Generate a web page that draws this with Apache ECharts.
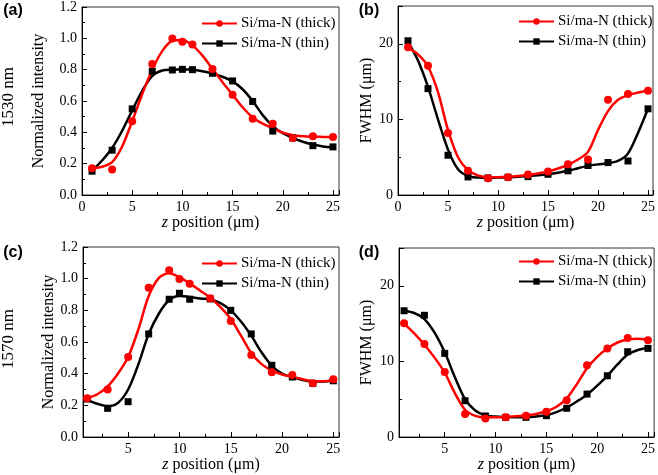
<!DOCTYPE html>
<html>
<head>
<meta charset="utf-8">
<script src="https://cdn.jsdelivr.net/npm/echarts@6/dist/echarts.min.js"></script>
<style>
    html, body { margin: 0; padding: 0; background: #fff; }
    #main { width: 658px; height: 475px; }
</style>
</head>
<body>
<div id="main"></div>
<script>
// measured z positions (um)
var zInt = [1, 3, 5, 7, 9, 10, 11, 13, 15, 17, 19, 21, 23, 25];
var zFwhm = [1, 3, 5, 7, 9, 11, 13, 15, 17, 19, 21, 23, 25];
// z positions where the fitted curves were read
var zFit = [1, 2, 3, 4, 5, 6, 7, 8, 9, 10, 11, 12, 13, 14, 15, 16, 17, 18, 19, 20, 21, 22, 23, 24, 25];

// (a) 1530 nm normalized intensity
var intThick1530 = [0.17, 0.163, 0.47, 0.836, 0.999, 0.978, 0.96, 0.804, 0.64, 0.487, 0.455, 0.364, 0.375, 0.37];
var intThin1530 = [0.152, 0.286, 0.55, 0.79, 0.798, 0.802, 0.80, 0.777, 0.728, 0.597, 0.408, 0.364, 0.315, 0.307];
var fitIntThick1530 = [0.17, 0.18, 0.21, 0.31, 0.47, 0.645, 0.80, 0.92, 0.985, 0.99, 0.955, 0.89, 0.805, 0.72, 0.64, 0.56, 0.495, 0.455, 0.425, 0.398, 0.382, 0.375, 0.372, 0.371, 0.37];
var fitIntThin1530 = [0.155, 0.22, 0.30, 0.41, 0.54, 0.665, 0.76, 0.795, 0.80, 0.802, 0.80, 0.79, 0.775, 0.755, 0.725, 0.675, 0.60, 0.51, 0.44, 0.395, 0.365, 0.34, 0.322, 0.31, 0.305];

// (b) 1530 nm FWHM
var fwThick1530 = [19.55, 17.1, 8.2, 3.2, 2.2, 2.35, 2.7, 3.1, 4.07, 4.7, 12.6, 13.36, 13.8];
var fwThin1530 = [20.4, 14.07, 5.26, 2.39, 2.26, 2.35, 2.43, 2.74, 3.2, 3.9, 4.29, 4.5, 11.4];
var fitFwThick1530 = [19.5, 18.6, 17.0, 13.6, 8.6, 5.0, 3.3, 2.6, 2.35, 2.35, 2.4, 2.5, 2.65, 2.85, 3.1, 3.5, 4.0, 4.7, 5.7, 8.6, 11.1, 12.6, 13.2, 13.55, 13.8];
var fitFwThin1530 = [20.3, 17.8, 14.3, 10.0, 6.0, 3.4, 2.5, 2.3, 2.25, 2.3, 2.35, 2.4, 2.5, 2.6, 2.75, 2.95, 3.2, 3.55, 3.85, 4.05, 4.2, 4.5, 5.5, 8.2, 11.4];

// (c) 1570 nm normalized intensity
var intThick1570 = [0.244, 0.30, 0.505, 0.943, 1.053, 0.998, 0.968, 0.876, 0.733, 0.518, 0.409, 0.392, 0.339, 0.365];
var intThin1570 = [0.24, 0.181, 0.223, 0.651, 0.87, 0.908, 0.87, 0.872, 0.80, 0.651, 0.453, 0.379, 0.339, 0.355];
var fitIntThick1570 = [0.245, 0.27, 0.32, 0.40, 0.505, 0.68, 0.89, 1.005, 1.035, 1.01, 0.97, 0.925, 0.88, 0.82, 0.745, 0.64, 0.53, 0.46, 0.42, 0.395, 0.38, 0.365, 0.352, 0.352, 0.36];
var fitIntThin1570 = [0.235, 0.21, 0.195, 0.215, 0.30, 0.46, 0.65, 0.78, 0.865, 0.89, 0.885, 0.875, 0.87, 0.845, 0.80, 0.73, 0.64, 0.535, 0.45, 0.40, 0.378, 0.36, 0.35, 0.35, 0.355];

// (d) 1570 nm FWHM
var fwThick1570 = [15.03, 12.3, 8.6, 3.04, 2.46, 2.6, 2.8, 3.35, 4.85, 9.5, 11.7, 13.1, 12.8];
var fwThin1570 = [16.7, 16.1, 11.06, 4.8, 2.78, 2.6, 2.6, 2.82, 3.8, 5.68, 8.1, 11.28, 11.72];
var fitFwThick1570 = [15.0, 13.7, 12.2, 10.5, 8.5, 5.8, 3.6, 2.8, 2.6, 2.6, 2.65, 2.75, 2.85, 3.05, 3.4, 4.0, 5.1, 7.0, 9.1, 10.6, 11.7, 12.5, 12.9, 13.0, 12.9];
var fitFwThin1570 = [16.7, 16.4, 15.6, 13.8, 11.2, 7.9, 5.0, 3.5, 2.85, 2.7, 2.65, 2.62, 2.62, 2.7, 2.9, 3.3, 3.9, 4.7, 5.6, 6.8, 8.1, 9.6, 10.9, 11.5, 11.8];

var seriesNames = ['Si/ma-N (thick)', 'Si/ma-N (thin)'];

var serif = 'Liberation Serif';
var sans = 'Liberation Sans';

function zip(xs, ys) {
    var out = [];
    for (var i = 0; i < xs.length; i++) {
        out.push([xs[i], ys[i]]);
    }
    return out;
}

function xAxisOf(grid, min, max, interval, gap) {
    var axis = {
        type: 'value',
        gridIndex: grid,
        min: min,
        max: max,
        splitNumber: 5,
        name: '{i|z} position (\u03bcm)',
        nameLocation: 'middle',
        nameGap: gap,
        nameTextStyle: {
            color: '#000', fontFamily: serif, fontSize: 16,
            rich: { i: { fontStyle: 'italic', fontFamily: serif, fontSize: 16, color: '#000' } }
        },
        axisLine: { lineStyle: { color: '#000', width: 1 } },
        axisTick: { inside: true, length: 5, lineStyle: { color: '#000' } },
        minorTick: { show: true, splitNumber: 2, length: 3, lineStyle: { color: '#000' } },
        axisLabel: {
            color: '#000', fontFamily: serif, fontSize: 14, margin: 5,
            formatter: function (v) {
                return Math.abs(v % 5) < 1e-6 ? String(v) : '';
            }
        },
        splitLine: { show: false }
    };
    if (interval) axis.interval = interval;
    return axis;
}

function yAxisOf(grid, max, interval, name, gap, digits) {
    return {
        type: 'value',
        gridIndex: grid,
        min: 0,
        max: max,
        interval: interval,
        name: name,
        nameLocation: 'middle',
        nameGap: gap,
        nameTextStyle: { color: '#000', fontFamily: serif, fontSize: 16 },
        axisLine: { show: true, lineStyle: { color: '#000', width: 1 } },
        axisTick: { show: true, inside: true, length: 5, lineStyle: { color: '#000' } },
        minorTick: { show: true, splitNumber: 2, length: 3, lineStyle: { color: '#000' } },
        axisLabel: {
            color: '#000', fontFamily: serif, fontSize: 14, margin: 5,
            formatter: function (v) {
                if (Math.abs(v / interval - Math.round(v / interval)) > 1e-6) return '';
                return v.toFixed(digits);
            }
        },
        splitLine: { show: false }
    };
}

// fitted curve, carries the legend entry
function curveOf(idx, thick, xs, ys) {
    var color = thick ? '#ff0000' : '#000000';
    return {
        name: thick ? seriesNames[0] : seriesNames[1],
        type: 'line',
        xAxisIndex: idx,
        yAxisIndex: idx,
        data: zip(xs, ys),
        smooth: 0.3,
        showSymbol: false,
        symbol: thick ? 'circle' : 'rect',
        symbolSize: thick ? 8 : 7,
        lineStyle: { color: color, width: 2.5 },
        itemStyle: { color: color },
        z: thick ? 3 : 2
    };
}

// measured points
function pointsOf(idx, thick, xs, ys) {
    var color = thick ? '#ff0000' : '#000000';
    return {
        name: thick ? 'thick points' : 'thin points',
        type: 'scatter',
        xAxisIndex: idx,
        yAxisIndex: idx,
        data: zip(xs, ys),
        symbol: thick ? 'circle' : 'rect',
        symbolSize: thick ? 8 : 7,
        itemStyle: { color: color, opacity: 1 },
        z: thick ? 4 : 3
    };
}

function legendOf(left, top) {
    return {
        data: seriesNames,
        orient: 'vertical',
        left: left,
        top: top,
        padding: 0,
        itemWidth: 35,
        itemHeight: 8,
        itemGap: 5,
        selectedMode: false,
        textStyle: { color: '#000', fontFamily: serif, fontSize: 15, padding: [0, 0, 0, -1] }
    };
}

function textOf(x, y, text, font, rotation) {
    return {
        type: 'text', x: x, y: y, rotation: rotation || 0, z: 10,
        style: { text: text, fill: '#000', font: font, textAlign: 'center', textVerticalAlign: 'middle' }
    };
}

var chart = echarts.init(document.getElementById('main'));
var frame = { show: true, borderColor: '#333', borderWidth: 1, backgroundColor: 'transparent' };

var option = {
    animation: false,
    backgroundColor: '#fff',
    grid: [
        Object.assign({ left: 82, top: 5, width: 257, height: 190 }, frame),
        Object.assign({ left: 398, top: 6, width: 258, height: 189 }, frame),
        Object.assign({ left: 83, top: 247, width: 256, height: 190 }, frame),
        Object.assign({ left: 399, top: 248, width: 257, height: 189 }, frame)
    ],
    xAxis: [
        xAxisOf(0, 0, 25.6, 5, 20),
        xAxisOf(1, 0, 25.5, 5, 20),
        xAxisOf(2, 0.6, 25.55, null, 19),
        xAxisOf(3, 0.5, 25.6, null, 19)
    ],
    yAxis: [
        yAxisOf(0, 1.2, 0.2, 'Normalized intensity', 35, 1),
        yAxisOf(1, 25, 10, 'FWHM (\u03bcm)', 18, 0),
        yAxisOf(2, 1.2, 0.2, 'Normalized intensity', 26, 1),
        yAxisOf(3, 25, 10, 'FWHM (\u03bcm)', 24, 0)
    ],
    legend: [
        legendOf(201, 16),
        legendOf(518, 14),
        legendOf(201, 256),
        legendOf(518, 254)
    ],
    series: [
        curveOf(0, true, zFit, fitIntThick1530),
        curveOf(0, false, zFit, fitIntThin1530),
        curveOf(1, true, zFit, fitFwThick1530),
        curveOf(1, false, zFit, fitFwThin1530),
        curveOf(2, true, zFit, fitIntThick1570),
        curveOf(2, false, zFit, fitIntThin1570),
        curveOf(3, true, zFit, fitFwThick1570),
        curveOf(3, false, zFit, fitFwThin1570),
        pointsOf(0, false, zInt, intThin1530),
        pointsOf(0, true, zInt, intThick1530),
        pointsOf(1, false, zFwhm, fwThin1530),
        pointsOf(1, true, zFwhm, fwThick1530),
        pointsOf(2, false, zInt, intThin1570),
        pointsOf(2, true, zInt, intThick1570),
        pointsOf(3, false, zFwhm, fwThin1570),
        pointsOf(3, true, zFwhm, fwThick1570)
    ],
    graphic: [
        textOf(13, 11, '(a)', 'bold 16px ' + sans),
        textOf(369, 11, '(b)', 'bold 16px ' + sans),
        textOf(13, 253, '(c)', 'bold 16px ' + sans),
        textOf(369, 253, '(d)', 'bold 16px ' + sans),
        textOf(9, 97, '1530 nm', '17px ' + serif, Math.PI / 2),
        textOf(9, 339, '1570 nm', '17px ' + serif, Math.PI / 2)
    ]
};

chart.setOption(option);
</script>
</body>
</html>
